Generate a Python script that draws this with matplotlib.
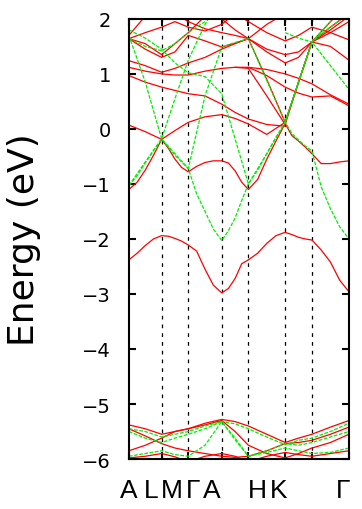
import numpy as np
import matplotlib.pyplot as plt

nan = np.nan

# high-symmetry points along the path (path length, arbitrary units)
k_names = ['A', 'L', 'M', 'Γ', 'A', 'H', 'K', 'Γ']
k_ticks = [0.0, 0.327, 0.593, 0.927, 1.193, 1.560, 1.827, 2.197]
# the labels under the axis sit left of their ticks in the original
label_k = [0.0, 0.22, 0.43, 0.64, 0.83, 1.28, 1.49, 2.14]

# bands sampled at quarter points of every segment (29 values)
red_q = {
    'R1': [-2.38, -2.26, -2.12, -2.00, -1.94, -1.95, -1.99, -2.04, -2.11, -2.22, -2.55, -2.84, -2.98,
           -2.90, -2.72, -2.45, -2.38, -2.26, -2.08, -1.94, -1.88, -1.92, -1.97, -2.00, -2.02, -2.20,
           -2.42, -2.75, -2.96],
    'R2': [-1.10, -0.97, -0.75, -0.48, -0.19, -0.35, -0.55, -0.70, -0.78, -0.68, -0.61, -0.58, -0.58,
           -0.62, -0.76, -0.97, -1.10, -0.92, -0.55, -0.22, 0.10, -0.12, -0.22, -0.33, -0.45, -0.63,
           -0.63, -0.60, -0.58],
}
green_q = {
    'G1': [-1.03, -0.85, -0.62, -0.40, -0.18, -0.33, -0.48, -0.60, -0.72, -1.18, -1.50, -1.82, -2.03,
           -1.85, -1.62, -1.30, -1.00, -0.75, -0.45, -0.15, 0.12, -0.08, -0.20, -0.31, -0.40, -1.05,
           -1.45, -1.78, -2.00],
}

# bands sampled at high-symmetry points and segment midpoints (15 values)
#        A     .     L     .     M     .     G     .     A     .     H     .     K     .     G
red_h = {
    'R3': [0.07, -0.05, -0.19, -0.03, 0.12, 0.22, 0.26, 0.19, 0.09, -0.10, 0.12, 0.85, 1.58, 1.95, 2.30],
    'R4': [1.12, 1.05, 1.00, 0.98, 0.98, 1.05, 1.10, 1.12, 1.12, 0.97, 0.76, 0.65, 0.58, 0.60, 0.42],
    'R5': [0.97, 0.85, 0.76, 0.70, 0.64, 0.60, 0.45, 0.30, 0.18, 0.08, 0.05, nan, nan, nan, nan],
    'R6': [1.64, 1.45, 1.30, 1.40, 1.70, 1.60, 1.49, 1.56, 1.64, 0.90, 0.12, 0.85, 1.58, 1.80, 2.05],
    'R7': [1.24, 1.15, 1.03, 1.10, 1.20, 1.30, 1.45, 1.55, 1.64, 1.40, 1.20, 1.30, 1.58, 1.50, 1.25],
    'R8': [1.64, 1.75, 1.85, 1.95, 1.85, 1.78, 1.90, 2.10, 1.95, 1.75, 1.60, 1.70, 1.85, 1.75, 1.62],
    'R9': [nan, nan, nan, nan, nan, nan, nan, nan, 1.12, 1.08, 1.00, 0.92, 0.82, 0.62, 0.45],
    'R10': [nan, nan, nan, nan, nan, nan, nan, 1.12, 1.10, 0.60, 0.08, 0.85, 1.58, 1.75, 1.95],
    'R11': [1.70, 2.05, nan, nan, nan, nan, nan, nan, nan, nan, nan, nan, nan, nan, nan],
    'R12': [1.64, 1.55, 1.35, 1.55, 1.75, 2.05, nan, nan, nan, nan, nan, nan, nan, nan, nan],
    'R13': [nan, nan, nan, 2.10, 1.95, 1.82, 1.75, 1.70, 1.64, 1.90, 2.10, nan, nan, nan, nan],
    'R14': [nan, nan, nan, nan, nan, 2.20, 2.00, 1.80, 1.64, 1.45, 1.35, 1.40, 1.58, 1.85, 2.10],
    'V1': [-5.38, -5.45, -5.55, -5.50, -5.45, -5.35, -5.28, -5.32, -5.40, -5.55, -5.70, -5.62, -5.55, -5.42, -5.30],
    'V3': [-5.45, -5.58, -5.72, -5.80, -5.85, -5.90, -5.95, -5.97, -5.95, -5.85, -5.72, -5.70, -5.66, -5.55, -5.42],
    'V5': [-5.85, -5.75, -5.62, -5.50, -5.45, -5.38, -5.30, -5.50, -5.75, -5.90, -5.98, -5.90, -5.80, -5.70, -5.55],
    'V7': [-5.98, -5.95, -5.90, -5.96, -6.05, -5.95, -5.90, -5.95, -6.05, -5.95, -5.88, -5.92, -5.95, -5.90, -5.85],
}
green_h = {
    'G2': [1.70, 0.85, -0.18, -0.45, -0.72, 0.60, 1.49, 1.57, 1.64, 0.88, 0.12, 0.85, 1.58, 1.95, 2.30],
    'G3': [-1.03, -0.60, -0.18, 0.55, 1.25, 1.90, 2.40, nan, nan, nan, nan, nan, nan, nan, nan],
    'G4': [1.80, 1.65, 1.45, 1.20, 1.02, 0.95, 0.64, -0.18, -1.00, -0.45, 0.12, 0.85, 1.58, 1.15, 0.72],
    'G5': [1.64, 1.50, 1.42, 1.55, 1.75, 1.95, nan, nan, nan, nan, 1.75, 1.65, 1.58, 1.85, 2.10],
    'V2': [-5.45, -5.50, -5.60, -5.55, -5.50, -5.40, -5.32, -5.36, -5.45, -5.60, -5.74, -5.66, -5.62, -5.50, -5.35],
    'V4': [-5.50, -5.62, -5.70, -5.62, -5.55, -5.45, -5.32, -5.65, -5.95, -5.85, -5.72, -5.75, -5.70, -5.60, -5.50],
    'V6': [-5.95, -5.90, -5.85, -5.92, -5.95, -5.75, -5.32, -5.62, -5.95, -5.88, -5.80, -5.85, -5.90, -5.88, -5.80],
}


def path_grid(n_sub):
    # k values at n_sub equal steps inside every segment
    pts = []
    for a, b in zip(k_ticks[:-1], k_ticks[1:]):
        pts.extend(np.linspace(a, b, n_sub + 1)[:-1])
    pts.append(k_ticks[-1])
    return np.array(pts)


kq = path_grid(4)
kh = path_grid(2)

plt.rcParams['font.family'] = ['Liberation Sans', 'DejaVu Sans']

fig = plt.figure(figsize=(3.62, 5.10), dpi=100)
ax = fig.add_axes([0.356, 0.098, 0.608, 0.863])

red_style = dict(color='#ff0000', lw=0.9, solid_capstyle='round')
green_style = dict(color='#00ee00', lw=0.9, ls=(0, (3, 1.2)))

for e in red_q.values():
    ax.plot(kq, e, **red_style)
for e in red_h.values():
    ax.plot(kh, e, **red_style)
for e in green_q.values():
    ax.plot(kq, e, **green_style)
for e in green_h.values():
    ax.plot(kh, e, **green_style)

for k in k_ticks[1:-1]:
    ax.axvline(k, color='black', lw=0.9, ls=(0, (3, 4)), zorder=0)

ax.set_xlim(k_ticks[0], k_ticks[-1])
ax.set_ylim(-6, 2)
ax.set_yticks(range(-6, 3))
ax.set_xticks(k_ticks)
ax.set_xticklabels([])
ax.tick_params(direction='in', length=5, width=1.5, top=True, right=True, pad=13)
for lab in ax.get_yticklabels():
    lab.set_fontfamily('DejaVu Sans')
    lab.set_fontsize(14)
for s in ax.spines.values():
    s.set_linewidth(1.5)

for k, name in zip(label_k, k_names):
    ax.text(k, -6.35, name, ha='center', va='top', fontsize=19)

ax.set_ylabel('Energy (eV)', fontsize=26, family='DejaVu Sans')
ax.yaxis.set_label_coords(-0.40, 0.5)

fig.savefig('out.png', dpi=100)
